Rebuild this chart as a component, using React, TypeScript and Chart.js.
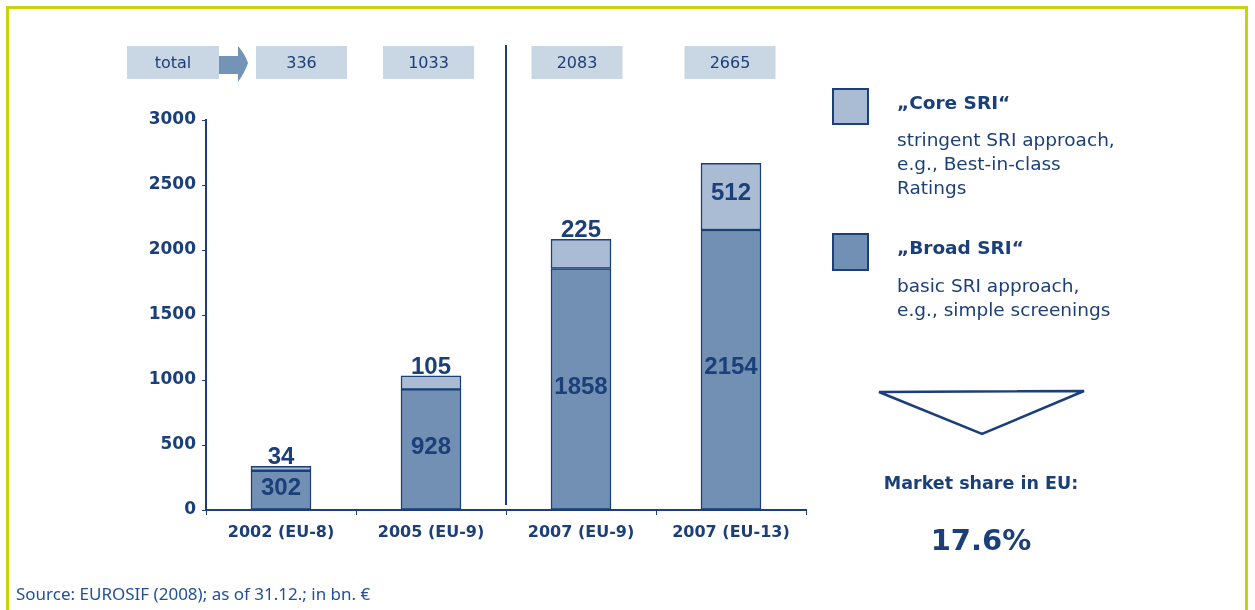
import { useEffect, useRef } from "react";
import { Chart, registerables } from "chart.js";

Chart.register(...registerables);

const categories = ["2002 (EU-8)", "2005 (EU-9)", "2007 (EU-9)", "2007 (EU-13)"];
const broadSRI = [302, 928, 1858, 2154];
const coreSRI = [34, 105, 225, 512];
const totals = ["336", "1033", "2083", "2665"];
const yMin = 0;
const yMax = 3000;
const yStep = 500;

const NAVY = "#1b3f78";
const DARK_FILL = "#7190b4";
const LIGHT_FILL = "#a9bcd4";
const BOX_FILL = "#c9d6e4";
const ARROW_FILL = "#7393b7";
const BORDER_GREEN = "#c8d40a";

const BOLD = "'DejaVu Sans', sans-serif";
const BOX_OFFSETS = [20.5, -2.5, -4, -1];

const overlayPlugin = {
  id: "overlay",
  afterDatasetsDraw(chart: any) {
    const ctx = chart.ctx as CanvasRenderingContext2D;
    const xs = chart.scales.x;
    ctx.save();

    // value labels
    const m0 = chart.getDatasetMeta(0);
    const m1 = chart.getDatasetMeta(1);
    ctx.fillStyle = NAVY;
    ctx.textAlign = "center";
    ctx.font = "bold 24px 'Liberation Sans', Arial, sans-serif";
    m0.data.forEach((bar: any, i: number) => {
      ctx.textBaseline = "middle";
      ctx.fillText(String(broadSRI[i]), bar.x, (bar.y + bar.base) / 2 - 2);
    });
    m1.data.forEach((bar: any, i: number) => {
      const h = bar.base - bar.y;
      if (h > 45) {
        ctx.textBaseline = "middle";
        ctx.fillText(String(coreSRI[i]), bar.x, (bar.y + bar.base) / 2 - 3);
      } else {
        ctx.textBaseline = "alphabetic";
        ctx.fillText(String(coreSRI[i]), bar.x, bar.y - 2);
      }
    });

    // separator line between 2nd and 3rd category
    const sepX = (xs.getPixelForValue(1) + xs.getPixelForValue(2)) / 2;
    ctx.strokeStyle = NAVY;
    ctx.lineWidth = 2;
    ctx.beginPath();
    ctx.moveTo(sepX, 45);
    ctx.lineTo(sepX, 505);
    ctx.stroke();

    // total boxes
    const boxTop = 46;
    const boxH = 33;
    const boxW = 91;
    ctx.font = "16px 'DejaVu Sans', sans-serif";
    ctx.textBaseline = "middle";
    ctx.fillStyle = BOX_FILL;
    ctx.fillRect(127, boxTop, 92, boxH);
    ctx.fillStyle = NAVY;
    ctx.fillText("total", 173, boxTop + boxH / 2 + 1);
    ctx.fillStyle = ARROW_FILL;
    ctx.fillRect(219, 56, 20, 18);
    ctx.beginPath();
    ctx.moveTo(238, boxTop);
    ctx.quadraticCurveTo(245, 54, 248, 63);
    ctx.quadraticCurveTo(245, 72, 238, boxTop + boxH + 3);
    ctx.closePath();
    ctx.fill();

    totals.forEach((t, i) => {
      const cx = xs.getPixelForValue(i) + BOX_OFFSETS[i];
      ctx.fillStyle = BOX_FILL;
      ctx.fillRect(cx - boxW / 2, boxTop, boxW, boxH);
      ctx.fillStyle = NAVY;
      ctx.fillText(t, cx, boxTop + boxH / 2 + 1);
    });

    ctx.restore();
  },
};

export default function App() {
  const canvasRef = useRef<HTMLCanvasElement | null>(null);

  useEffect(() => {
    if (!canvasRef.current) return;
    const chart = new Chart(canvasRef.current, {
      type: "bar",
      data: {
        labels: categories,
        datasets: [
          {
            label: "Broad SRI",
            data: broadSRI,
            backgroundColor: DARK_FILL,
            borderColor: NAVY,
            borderWidth: 1.5,
            borderSkipped: false,
            barThickness: 60,
          },
          {
            label: "Core SRI",
            data: coreSRI,
            backgroundColor: LIGHT_FILL,
            borderColor: NAVY,
            borderWidth: 1.5,
            borderSkipped: false,
            barThickness: 60,
          },
        ],
      },
      options: {
        animation: false,
        responsive: true,
        maintainAspectRatio: false,
        layout: { padding: { left: 100, right: 449, top: 120, bottom: 50 } },
        plugins: { legend: { display: false }, tooltip: { enabled: false } },
        scales: {
          x: {
            stacked: true,
            afterFit: (s: any) => {
              s.height = 50;
            },
            grid: {
              display: true,
              drawOnChartArea: false,
              drawTicks: true,
              tickLength: 5,
              color: NAVY,
              offset: true,
            },
            border: { display: true, color: NAVY, width: 2 },
            ticks: {
              color: NAVY,
              padding: 8,
              font: { family: BOLD, size: 16, weight: "bold" },
              maxRotation: 0,
            },
          },
          y: {
            stacked: true,
            min: yMin,
            max: yMax,
            afterFit: (s: any) => {
              s.width = 106;
            },
            grid: {
              display: true,
              drawOnChartArea: false,
              drawTicks: true,
              tickLength: 4,
              color: NAVY,
            },
            border: { display: true, color: NAVY, width: 2 },
            ticks: {
              stepSize: yStep,
              color: NAVY,
              padding: 6,
              font: { family: BOLD, size: 17, weight: "bold" },
              callback: (v: any) => String(v),
            },
          },
        },
      },
      plugins: [overlayPlugin],
    });
    return () => chart.destroy();
  }, []);

  const txt: React.CSSProperties = {
    position: "absolute",
    color: NAVY,
    fontFamily: "'DejaVu Sans', sans-serif",
    fontSize: "18.5px",
    lineHeight: "24px",
    whiteSpace: "nowrap",
  };

  return (
    <div
      style={{
        position: "absolute",
        left: 0,
        top: 0,
        width: 1255,
        height: 610,
        background: "#fff",
        overflow: "hidden",
      }}
    >
      <canvas ref={canvasRef} style={{ position: "absolute", left: 0, top: 0 }} />
      {/* frame */}
      <div style={{ position: "absolute", left: 6, top: 6, width: 1242, height: 3, background: BORDER_GREEN }} />
      <div style={{ position: "absolute", left: 6, top: 6, width: 3, height: 610, background: BORDER_GREEN }} />
      <div style={{ position: "absolute", left: 1245, top: 6, width: 3, height: 610, background: BORDER_GREEN }} />

      {/* legend */}
      <div
        style={{
          position: "absolute",
          left: 832,
          top: 88,
          width: 33,
          height: 33,
          background: LIGHT_FILL,
          border: `2px solid ${NAVY}`,
        }}
      />
      <div style={{ ...txt, left: 897, top: 91, fontWeight: "bold" }}>„Core SRI“</div>
      <div style={{ ...txt, left: 897, top: 128 }}>
        stringent SRI approach,
        <br />
        e.g., Best-in-class
        <br />
        Ratings
      </div>
      <div
        style={{
          position: "absolute",
          left: 832,
          top: 233,
          width: 33,
          height: 34,
          background: DARK_FILL,
          border: `2px solid ${NAVY}`,
        }}
      />
      <div style={{ ...txt, left: 897, top: 236, fontWeight: "bold" }}>„Broad SRI“</div>
      <div style={{ ...txt, left: 897, top: 274 }}>
        basic SRI approach,
        <br />
        e.g., simple screenings
      </div>

      {/* triangle */}
      <svg style={{ position: "absolute", left: 0, top: 0 }} width={1255} height={610}>
        <polygon
          points="879,392 1084,391 982,434"
          fill="none"
          stroke={NAVY}
          strokeWidth={2.5}
          strokeLinejoin="miter"
        />
      </svg>

      <div
        style={{
          ...txt,
          left: 881,
          width: 200,
          textAlign: "center",
          top: 471,
          fontWeight: "bold",
          fontSize: "17.5px",
        }}
      >
        Market share in EU:
      </div>
      <div
        style={{
          ...txt,
          left: 881,
          width: 200,
          textAlign: "center",
          top: 522,
          lineHeight: "36px",
          fontWeight: "bold",
          fontSize: "29px",
        }}
      >
        17.6%
      </div>

      <div
        style={{
          position: "absolute",
          left: 16,
          top: 583,
          color: "#22519a",
          fontFamily: "'Noto Sans', sans-serif",
          fontSize: "17px",
          lineHeight: "22px",
          whiteSpace: "nowrap",
        }}
      >
        Source: EUROSIF (2008); as of 31.12.; in bn. €
      </div>
    </div>
  );
}
